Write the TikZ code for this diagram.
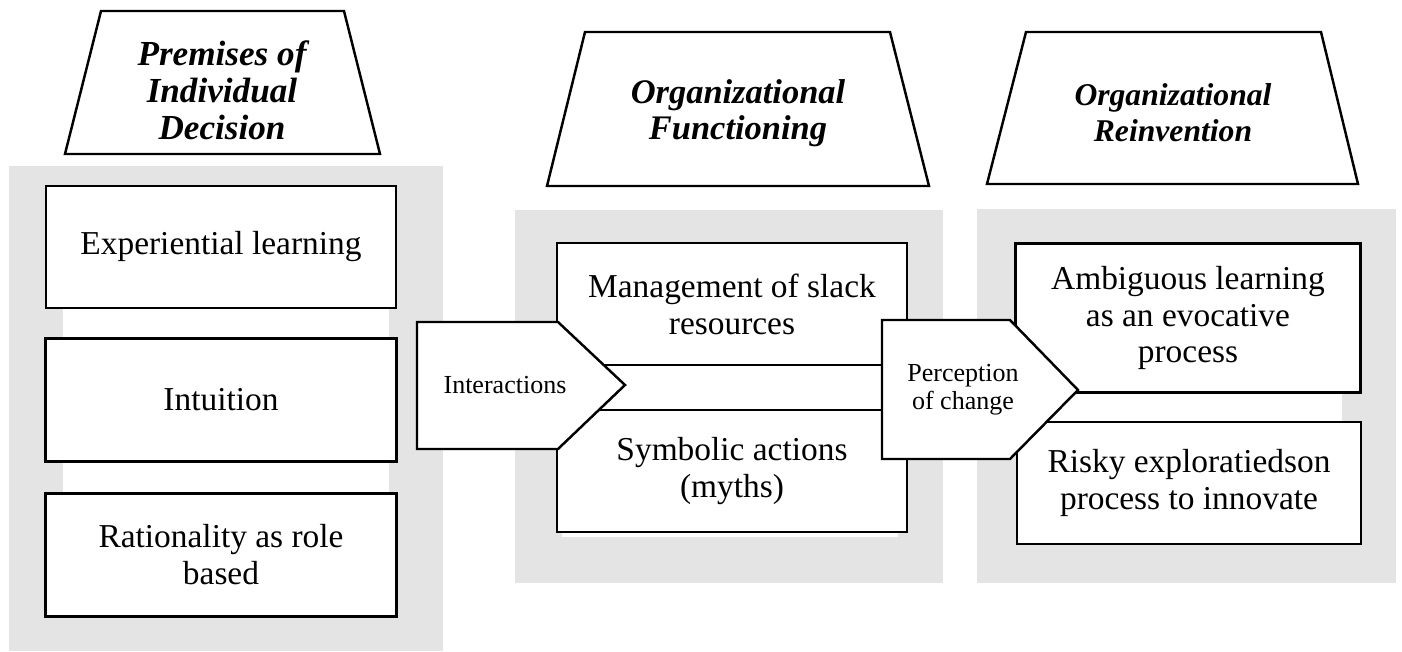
\documentclass[tikz,border=0pt]{standalone}
\usepackage{fontspec}
\setmainfont{Liberation Serif}
\definecolor{panelgray}{HTML}{E4E4E4}

\begin{document}
\begin{tikzpicture}[x=0.01cm, y=-0.01cm, line width=0.7pt, line join=miter]
	\tikzstyle{panel}=[fill=panelgray, draw=none]
	\tikzstyle{strip}=[fill=white, draw=none]
	\tikzstyle{box}=[draw, fill=white, rectangle, align=center, inner sep=0pt,
		minimum width=3.5cm, minimum height=1.22cm, font=\fontsize{9.5}{10.5}\selectfont]
	\tikzstyle{head}=[align=center, inner sep=0pt, font=\bfseries\itshape]
	\tikzstyle{tag}=[align=center, inner sep=0pt, font=\fontsize{7.4}{8}\selectfont]
	\useasboundingbox (0,0) rectangle (1402,651);

	% grey panels with the white column behind the boxes
	\fill[panelgray] (9,166) rectangle (443,651);
	\fill[panelgray] (515,210) rectangle (943,583);
	\fill[panelgray] (977,209) rectangle (1396,583);
	\fill[white] (63,200) rectangle (389,600);
	\fill[white] (562,260) rectangle (898,537);
	\fill[white] (1030,260) rectangle (1342,540);

	% headings
	\draw (101,11) -- (344,11) -- (380,154) -- (65,154) -- cycle;
	\node[head, font=\fontsize{10}{10.5}\bfseries\itshape\selectfont] (premises) at (222,90) {Premises of\\Individual\\Decision};
	\draw (585,32) -- (890,32) -- (929,186) -- (547,186) -- cycle;
	\node[head, font=\fontsize{9.8}{10.3}\bfseries\itshape\selectfont] (functioning) at (738,113) {Organizational\\Functioning};
	\draw (1026,32) -- (1321,32) -- (1358,184) -- (987,184) -- cycle;
	\node[head, font=\fontsize{9}{10.3}\bfseries\itshape\selectfont] (reinvention) at (1173,113) {Organizational\\Reinvention};

	% boxes
	\node[box] (exp) at (221,247) {Experiential learning};
	\node[box, minimum width=3.51cm, minimum height=1.23cm] (intu) at (221,400) {Intuition};
	\node[box, minimum width=3.51cm, minimum height=1.23cm] (rat) at (221,555) {Rationality as role\\based};
	\node[box] (mgmt) at (732,304) {Management of slack\\resources};
	\node[box] (symb) at (732,471) {Symbolic actions\\(myths)};
	\node[box, minimum width=3.45cm, minimum height=1.49cm] (ambi) at (1188,318) {Ambiguous learning\\as an evocative\\process};
	\node[box, minimum width=3.44cm] (risky) at (1189,483) {Risky exploratiedson\\process to innovate};

	% arrows between the panels
	\draw[fill=white] (417,322) -- (558,322) -- (625,385) -- (558,449) -- (417,449) -- cycle;
	\node[tag] (inter) at (505,385) {Interactions};
	\draw[fill=white] (882,320) -- (1010,320) -- (1078,390) -- (1010,459) -- (882,459) -- cycle;
	\node[tag] (perc) at (963,390) {Perception\\of change};
\end{tikzpicture}
\end{document}
